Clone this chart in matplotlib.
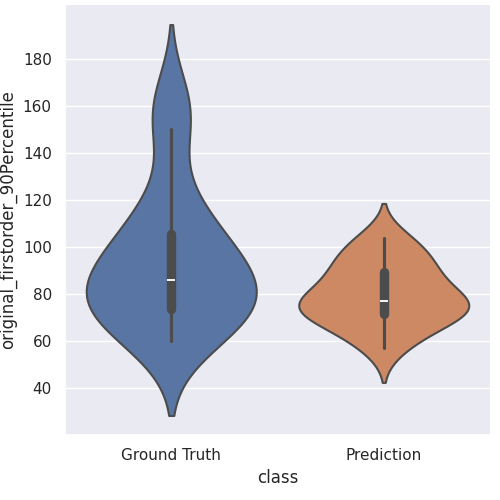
import pandas as pd
import seaborn as sns
from matplotlib import pyplot as plt

ground_truth = [60, 63, 66, 69, 71, 72, 75, 78, 80, 82, 84, 86, 89, 92, 96, 101,
                103, 108, 114, 123, 150, 158, 163]
prediction = [57, 62, 66, 69, 71, 72, 74, 75, 76, 77, 79, 82, 85, 88, 91, 93,
              97, 101, 104]
classes = ['Ground Truth', 'Prediction']

df = pd.DataFrame({
    'class': [classes[0]] * len(ground_truth) + [classes[1]] * len(prediction),
    'original_firstorder_90Percentile': ground_truth + prediction,
})

sns.set_theme()
g = sns.catplot(data=df, x='class', y='original_firstorder_90Percentile',
                hue='class', kind='violin', height=5, aspect=1, legend=False,
                linewidth=1.5)
g.ax.set_yticks([40, 60, 80, 100, 120, 140, 160, 180])
g.figure.subplots_adjust(left=0.13, right=0.98, bottom=0.13, top=0.99)
g.figure.savefig('out.png', dpi=100)
